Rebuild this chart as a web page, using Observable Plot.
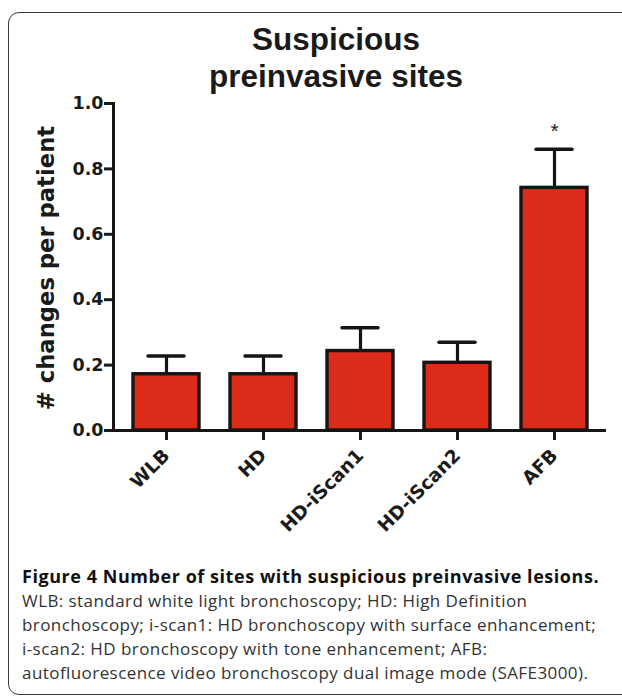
<!DOCTYPE html>
<html>
<head>
<meta charset="utf-8">
<script src="https://cdn.jsdelivr.net/npm/d3@7"></script>
<script src="https://cdn.jsdelivr.net/npm/@observablehq/plot@0.6"></script>
<style>
  html, body { margin: 0; padding: 0; background: #fff; overflow: hidden; }
  #page { position: relative; width: 622px; height: 699px; overflow: hidden; }
  #frame { position: absolute; left: 8px; top: 12px; width: 720px; height: 683px;
           border: 1.5px solid #3a3a3a; border-radius: 11px; box-sizing: border-box; }
  #title { position: absolute; left: 136px; width: 400px; top: 20.6px; text-align: center;
           font-family: "Liberation Sans", Arial, sans-serif; font-weight: bold; font-size: 31.5px;
           line-height: 37px; color: #1a1a1a; white-space: nowrap; }
  #ylabel { position: absolute; left: 46px; top: 268px; transform: translate(-50%, -50%) rotate(-90deg);
            font-family: "DejaVu Sans", sans-serif; font-weight: bold; font-size: 22.7px; color: #1a1a1a;
            white-space: nowrap; line-height: 1; }
  #chart { position: absolute; left: 0; top: 90px; }
  #caption { position: absolute; left: 22px; top: 564px; width: 600px; white-space: nowrap;
             font-family: "Open Sans", "Noto Sans", sans-serif; font-size: 17px; line-height: 24px;
             color: #333; letter-spacing: 0.43px; }
  #caption b { color: #111; font-size: 18px; letter-spacing: 0.55px; }
</style>
</head>
<body>
<div id="page">
  <div id="frame"></div>
  <div id="title">Suspicious<br>preinvasive sites</div>
  <div id="chart"></div>
  <div id="ylabel"></div>
  <div id="caption"><b>Figure 4 Number of sites with suspicious preinvasive lesions.</b><br>WLB: standard white light bronchoscopy; HD: High Definition<br>bronchoscopy; i-scan1: HD bronchoscopy with surface enhancement;<br>i-scan2: HD bronchoscopy with tone enhancement; AFB:<br>autofluorescence video bronchoscopy dual image mode (SAFE3000).</div>
</div>
<script>
const categories = ["WLB", "HD", "HD-iScan1", "HD-iScan2", "AFB"];
const means = [0.172, 0.172, 0.243, 0.207, 0.742];
const errors = [0.056, 0.056, 0.071, 0.063, 0.118];
const yTicks = [0, 0.2, 0.4, 0.6, 0.8, 1.0];
const significance = [{cat: "AFB", y: 0.915, label: "*"}];
const yLabel = "# changes per patient";

document.getElementById("ylabel").textContent = yLabel;

const data = categories.map((c, i) => ({cat: c, mean: means[i], top: means[i] + errors[i]}));

const tickFont = "'DejaVu Sans', sans-serif";
const ink = "#151515";

const chart = Plot.plot({
  width: 622,
  height: 465,
  marginTop: 13,
  marginBottom: 125,
  marginLeft: 113,
  marginRight: 16,
  style: {fontFamily: tickFont, fontWeight: "bold", color: "#1a1a1a", background: "transparent", overflow: "visible"},
  x: {domain: categories, paddingInner: 0.32, paddingOuter: 0.178, label: null},
  y: {domain: [0, 1], label: null},
  marks: [
    Plot.ruleX(data, {x: "cat", y1: "mean", y2: "top", stroke: ink, strokeWidth: 3.2}),
    Plot.tickY(data, {x: "cat", y: "top", stroke: ink, strokeWidth: 3.5, insetLeft: 15, insetRight: 15, strokeLinecap: "round"}),
    Plot.barY(data, {x: "cat", y: "mean", fill: "#dc2a1b", stroke: ink, strokeWidth: 3.4, inset: 0}),
    Plot.text(significance, {x: "cat", y: "y", text: "label", fontSize: 21, fontWeight: "normal", fontFamily: "'Liberation Sans', Arial, sans-serif", fill: "#222"}),
    Plot.axisY({ticks: yTicks, tickFormat: d3.format(".1f"), tickSize: 9, tickPadding: 1, strokeWidth: 3, fontSize: 17.5, fontFamily: tickFont, fontWeight: "bold", label: null}),
    Plot.axisX({tickRotate: -45, tickSize: 10, tickPadding: 12, strokeWidth: 3, fontSize: 18.5, fontFamily: tickFont, fontWeight: "bold", label: null}),
    Plot.frame({anchor: "left", stroke: ink, strokeWidth: 3}),
    Plot.ruleY([0], {stroke: ink, strokeWidth: 3})
  ]
});
document.getElementById("chart").appendChild(chart);
</script>
</body>
</html>
